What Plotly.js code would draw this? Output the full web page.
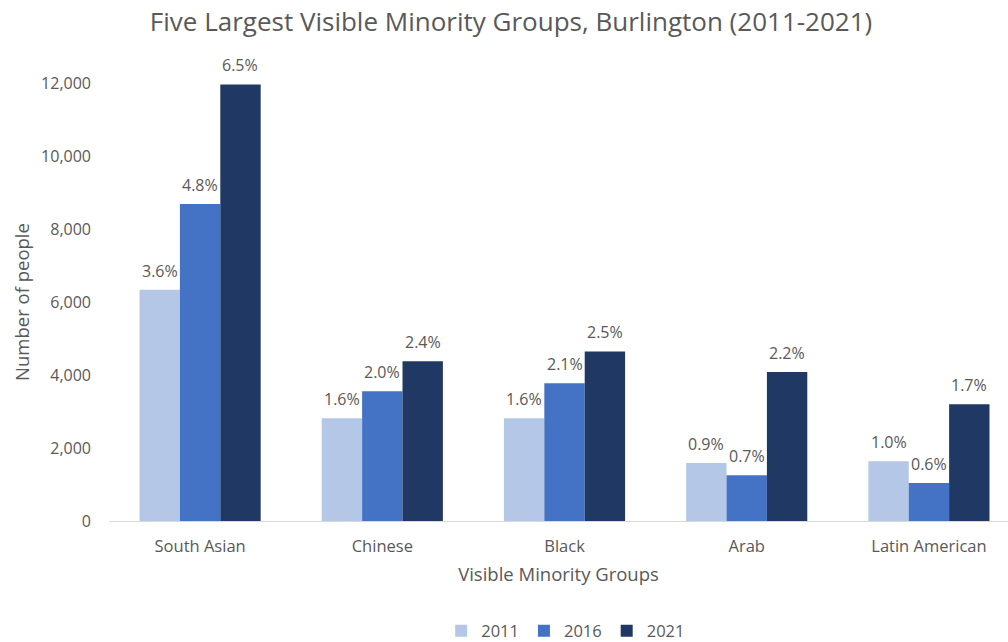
<!DOCTYPE html>
<html>
<head>
<meta charset="utf-8">
<script src="https://cdn.plot.ly/plotly-3.0.1.min.js"></script>
<style>html,body{margin:0;padding:0;background:#fff;overflow:hidden;}#chart{width:1008px;height:642px;}</style>
</head>
<body>
<div id="chart"></div>
<script>
const categories = ["South Asian", "Chinese", "Black", "Arab", "Latin American"];
const years = ["2011", "2016", "2021"];
const values2011 = [6335, 2815, 2815, 1590, 1635];
const values2016 = [8685, 3555, 3775, 1255, 1040];
const values2021 = [11960, 4380, 4645, 4080, 3200];
const share2011 = ["3.6%", "1.6%", "1.6%", "0.9%", "1.0%"];
const share2016 = ["4.8%", "2.0%", "2.1%", "0.7%", "0.6%"];
const share2021 = ["6.5%", "2.4%", "2.5%", "2.2%", "1.7%"];
const yTicks = [0, 2000, 4000, 6000, 8000, 10000, 12000];

const colors = ["#B4C7E7", "#4472C4", "#203864"];
const seriesValues = [values2011, values2016, values2021];
const seriesShares = [share2011, share2016, share2021];
const font = "Open Sans, Lato, sans-serif";
const grey = "#595959";
const bargap = 0.335;
const barW = (1 - bargap) / 3;

const traces = years.map((yr, i) => ({
  type: "bar",
  name: yr,
  x: categories,
  y: seriesValues[i],
  marker: {color: colors[i], line: {width: 0}},
  hoverinfo: "x+y+name"
}));

const annotations = [];
seriesValues.forEach((vals, i) => {
  vals.forEach((v, j) => {
    annotations.push({
      x: j + (i - 1) * barW,
      y: v,
      xref: "x",
      yref: "y",
      text: seriesShares[i][j],
      showarrow: false,
      yanchor: "bottom",
      yshift: 6,
      font: {family: font, size: 16, color: grey}
    });
  });
});

const layout = {
  width: 1008,
  height: 642,
  margin: {l: 109, r: 0, t: 83, b: 121, autoexpand: false},
  paper_bgcolor: "#fff",
  plot_bgcolor: "#fff",
  barmode: "group",
  bargap: bargap,
  bargroupgap: 0,
  font: {family: font, color: grey, size: 16},
  title: {
    text: "Five Largest Visible Minority Groups, Burlington (2011-2021)",
    x: 0.507, xanchor: "center", xref: "container",
    y: 0.966, yanchor: "middle", yref: "container",
    font: {family: font, size: 26, color: grey}
  },
  xaxis: {
    type: "category",
    range: [-0.5, 4.434],
    showline: true, linecolor: "#D9D9D9", linewidth: 1,
    ticks: "", showgrid: false, zeroline: false,
    tickfont: {family: font, size: 16.5, color: grey},
    ticklabelstandoff: 10,
    title: {text: "Visible Minority Groups", standoff: 12, font: {family: font, size: 18.5, color: grey}}
  },
  yaxis: {
    range: [0, 12000],
    tickvals: yTicks,
    tickformat: ",d",
    showgrid: false, zeroline: false, showline: false, ticks: "",
    tickfont: {family: font, size: 16, color: grey},
    ticklabelstandoff: 17,
    title: {text: "Number of people", standoff: 6, font: {family: font, size: 18.5, color: grey}}
  },
  legend: {
    orientation: "h",
    x: 0.508, xanchor: "center",
    yref: "container",
    y: 0.017, yanchor: "middle",
    font: {family: font, size: 16.5, color: grey},
    itemwidth: 30,
    traceorder: "normal"
  },
  annotations: annotations,
  showlegend: true
};

Plotly.newPlot("chart", traces, layout, {displayModeBar: false, staticPlot: true});
</script>
</body>
</html>
